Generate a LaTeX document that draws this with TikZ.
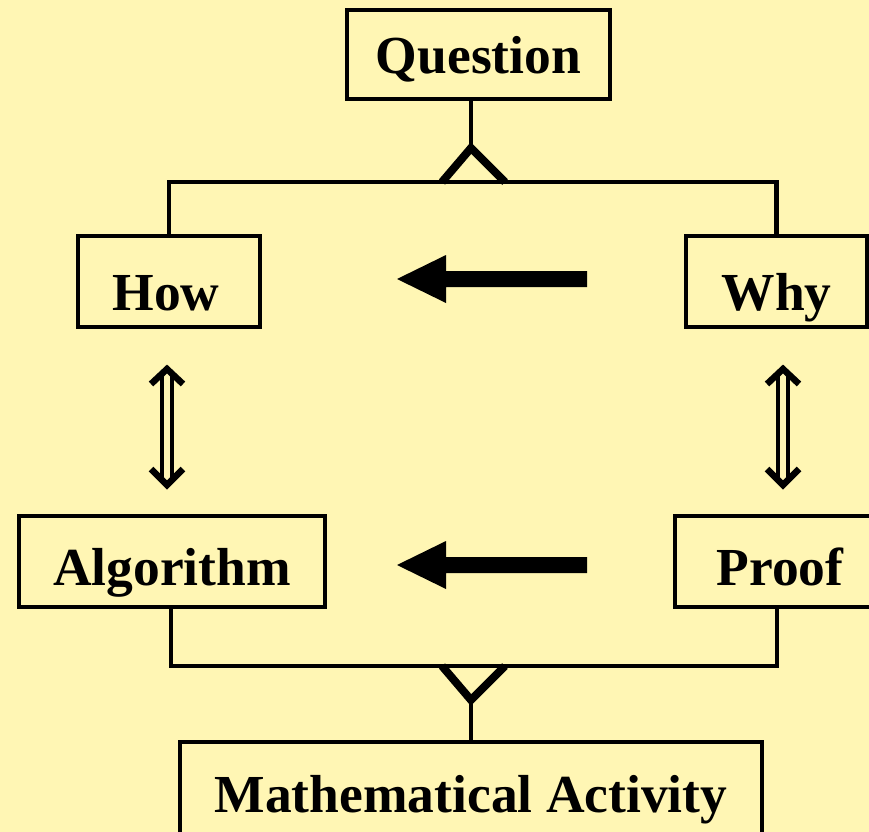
\documentclass[tikz,border=0pt]{standalone}
\usepackage{fontspec}
\setmainfont{Liberation Serif}
\usetikzlibrary{calc}
\definecolor{bgyellow}{HTML}{FFF6B4}
\begin{document}
\begin{tikzpicture}[x=1bp,y=-1bp,
  box/.style={draw=black, line width=4.5bp, inner sep=0pt, text depth=0pt,
    font=\fontsize{53.5bp}{60bp}\selectfont\bfseries},
  conn/.style={line width=4.5bp, line join=miter},
  fork/.style={line width=8bp, line join=miter},
  bigarrow/.style={fill=black},
  dblline/.style={line width=4.5bp},
  dblhead/.style={line width=6.5bp, line join=miter}]
\fill[bgyellow] (0,0) rectangle (869,832);
\clip (0,0) rectangle (869,832);
\useasboundingbox (0,0) rectangle (869,832);

% boxes
\node[box, minimum width=263bp, minimum height=89bp, text height=37bp] (Question) at (478.5,54.5) {Question};
\node[box, minimum width=182bp, minimum height=91bp, text height=57bp] (How) at (169,281.5) {\hspace*{-6bp}How};
\node[box, minimum width=181bp, minimum height=91bp, text height=57bp] (Why) at (776.5,281.5) {Why};
\node[box, minimum width=306bp, minimum height=91bp, text height=47bp] (Algorithm) at (172,561.5) {Algorithm};
\node[box, minimum width=210bp, minimum height=91bp, text height=47bp] (Proof) at (780,561.5) {Proof};
\node[box, minimum width=582bp, minimum height=96bp, text height=44bp] (Math) at (471,790) {Mathematical Activity};

% top fork
\coordinate (topApex) at (471,148);
\coordinate (topBar) at (471,182);
\draw[conn] (topApex |- Question.south) -- (topApex);
\draw[fork] (442,182) -- (topApex) -- (505,182);
\draw[conn] (How.north) -- (How.north |- topBar) -- (Why.north |- topBar) -- (Why.north);

% bottom fork
\coordinate (botL) at (171,666);
\coordinate (botR) at (777,666);
\coordinate (botApex) at (471,700);
\draw[conn] (botL |- Algorithm.south) -- (botL) -- (botR) -- (botR |- Proof.south);
\draw[fork] (442,666) -- (botApex) -- (505,666);
\draw[conn] (botApex) -- (botApex |- Math.north);

% thick arrows (Why -> How, Proof -> Algorithm)
\coordinate (arrA) at (587,279);
\coordinate (arrB) at (587,565);
\foreach \c in {arrA,arrB}{
  \fill[bigarrow] (\c) ++(0,-8) -- ++(-141,0) -- ++(0,-16) -- ++(-49,24)
     -- ++(49,24) -- ++(0,-16) -- ++(141,0) -- cycle;
}

% double arrows
\coordinate (dblL) at (167,369);
\coordinate (dblR) at (783,369);
\foreach \c in {dblL,dblR}{
  \draw[dblline] (\c) ++(-5,3) -- ++(0,110);
  \draw[dblline] (\c) ++(5,3) -- ++(0,110);
  \draw[dblhead] (\c) ++(-16,15) -- ++(16,-15) -- ++(16,15);
  \draw[dblhead] (\c) ++(-16,100) -- ++(16,16) -- ++(16,-16);
}
\end{tikzpicture}
\end{document}
